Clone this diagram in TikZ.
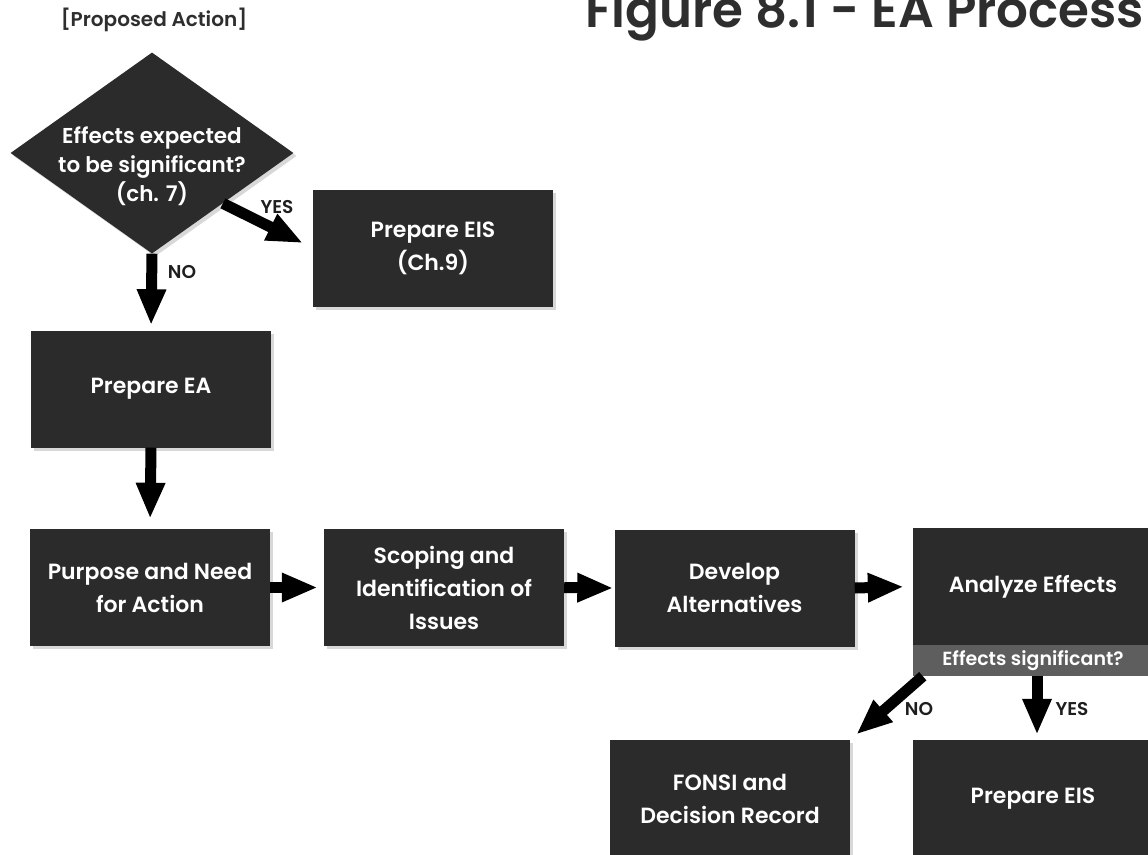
\documentclass[tikz,border=0pt]{standalone}
\usepackage{fontspec}
\setmainfont{Poppins}[BoldFont={Poppins SemiBold}]
\usetikzlibrary{arrows.meta,shapes.geometric,shadows}
\definecolor{boxfill}{HTML}{2B2B2B}
\definecolor{bandfill}{HTML}{5E5E5E}
\definecolor{inkc}{HTML}{1E1E1E}
\definecolor{titlec}{HTML}{2E2E2E}
\tikzset{
  boxstyle/.style={fill=boxfill, minimum width=240pt, minimum height=117pt, inner sep=0pt,
    text=white, align=center, font=\fontsize{22pt}{33pt}\selectfont\bfseries,
    drop shadow={shadow xshift=3pt, shadow yshift=-3pt, opacity=0.3}},
  bandstyle/.style={fill=bandfill, minimum width=240pt, minimum height=31pt, inner sep=0pt,
    text=white, font=\fontsize{19pt}{20pt}\selectfont\bfseries},
  diastyle/.style={shape=diamond, fill=boxfill, minimum width=283pt, minimum height=201pt,
    inner sep=0pt, drop shadow={shadow xshift=3pt, shadow yshift=-3pt, opacity=0.3}},
  lbl/.style={text=inkc, inner sep=0pt, font=\fontsize{18.5pt}{20pt}\selectfont\bfseries},
  arrowline/.style={line width=11pt, draw=black, -{Triangle[length=36pt,width=27pt]}},
}
\begin{document}
\begin{tikzpicture}[x=1pt,y=-1pt]
\path[use as bounding box] (0,0) rectangle (1148,854);
\clip (0,0) rectangle (1148,854);
\fill[white] (0,0) rectangle (1148,854);

% title
\node[anchor=base west, inner sep=0pt, text=titlec, font=\fontsize{50pt}{52pt}\selectfont\bfseries] (title) at (585,27) {Figure 8.1 - EA Process};
\node[anchor=base, inner sep=0pt, text=titlec, font=\fontsize{20pt}{22pt}\selectfont\bfseries] (proposed) at (154,26) {[Proposed Action]};

% decision diamond
\node[diastyle] (dia) at (152,153) {};
\node[text=white, align=center, inner sep=0pt, font=\fontsize{21.5pt}{29pt}\selectfont\bfseries] (diatext) at (152,166) {Effects expected\\to be significant?\\(ch. 7)};

% boxes
\node[boxstyle] (eis1) at (433,248) {Prepare EIS\\(Ch.9)};
\node[boxstyle] (ea) at (151,389) {Prepare EA};
\node[boxstyle] (purpose) at (150,587.5) {Purpose and Need\\for Action};
\node[boxstyle] (scoping) at (444,587.5) {Scoping and\\Identification of\\Issues};
\node[boxstyle] (develop) at (734.5,588) {Develop\\Alternatives};
\node[boxstyle] (analyze) at (1033,586.5) {Analyze Effects};
\node[bandstyle] (band) at (1033,660.5) {Effects significant?};
\node[boxstyle] (fonsi) at (730,798.5) {FONSI and\\Decision Record};
\node[boxstyle] (eis2) at (1033,798.5) {Prepare EIS};

% connectors
\draw[arrowline, shorten >=5pt] (dia.south) -- (ea.north);
\draw[arrowline, shorten >=11pt] (dia.south east) -- (eis1.west);
\draw[arrowline, shorten >=10pt] (ea.south) -- (purpose.north);
\draw[arrowline, shorten >=6pt] (purpose.east) -- (scoping.west);
\draw[arrowline, shorten >=1pt] (scoping.east) -- (develop.west);
\draw[arrowline, shorten >=9pt] (develop.east) -- (analyze.west);
\draw[arrowline, shorten >=8pt] ([xshift=10pt]band.south west) -- (fonsi.north east);
\draw[arrowline, shorten >=5pt] ([xshift=4pt]band.south) -- ([xshift=4pt]eis2.north);

% labels
\node[lbl] (yes1) at (277,207) {YES};
\node[lbl] (no1) at (182,272) {NO};
\node[lbl] (no2) at (919,709) {NO};
\node[lbl] (yes2) at (1072,709) {YES};
\end{tikzpicture}
\end{document}
